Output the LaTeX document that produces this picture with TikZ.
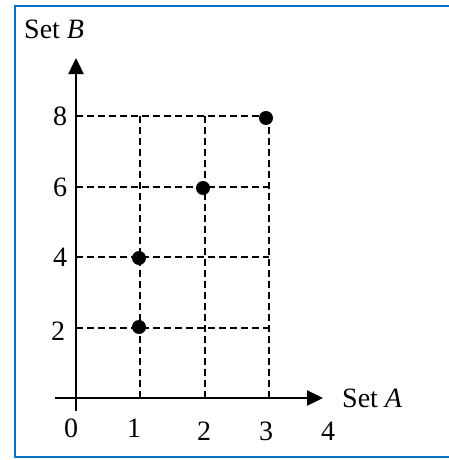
\documentclass[tikz,border=0pt]{standalone}
\usepackage{fontspec}
\setmainfont{Liberation Serif}
\usetikzlibrary{arrows.meta}
\definecolor{frameblue}{RGB}{0,114,198}
\begin{document}
\begin{tikzpicture}[x=1pt,y=-1pt,
  axis/.style={line width=2.4pt,-{Triangle[length=16pt,width=15pt]}},
  gridline/.style={line width=1.3pt,dash pattern=on 7pt off 4pt},
  dot/.style={circle,fill=black,inner sep=0pt,minimum size=14pt},
  lbl/.style={font=\fontsize{28}{32}\selectfont,inner sep=0pt}]
\useasboundingbox (0,0) rectangle (449,460);
\draw[frameblue,line width=2.2pt] (460,6) -- (15,6) -- (15,457) -- (460,457);
% grid coordinates
\coordinate (o) at (76,398);
\coordinate (x1) at (140,398);
\coordinate (x2) at (205,398);
\coordinate (x3) at (269,398);
\coordinate (y2) at (76,328);
\coordinate (y4) at (76,257);
\coordinate (y6) at (76,187);
\coordinate (y8) at (76,116);
\coordinate (x1t) at (140,116);
\coordinate (x2t) at (205,116);
\coordinate (x3t) at (269,116);
\coordinate (r2) at (269,328);
\coordinate (r4) at (269,257);
\coordinate (r6) at (269,187);
% dashed grid
\draw[gridline] (y2) -- (r2);
\draw[gridline] (y4) -- (r4);
\draw[gridline] (y6) -- (r6);
\draw[gridline] (y8) -- (x3t);
\draw[gridline] (x1) -- (x1t);
\draw[gridline] (x2) -- (x2t);
\draw[gridline] (x3) -- (x3t);
% axes
\coordinate (xs) at (55,398);
\coordinate (xe) at (323,398);
\coordinate (ys) at (76,411);
\coordinate (ye) at (76,58);
\draw[axis] (xs) -- (xe);
\draw[axis] (ys) -- (ye);
% dots
\node[dot] (p12) at (139,327) {};
\node[dot] (p14) at (139,258) {};
\node[dot] (p26) at (203,188) {};
\node[dot] (p38) at (266,118) {};
% axis labels
\node[lbl,anchor=base west] (setB) at (24,39) {Set \textit{B}};
\node[lbl,anchor=base west] (setA) at (342,407) {Set \textit{A}};
% x tick labels
\node[lbl,anchor=base] (t0) at (71,437) {0};
\node[lbl,anchor=base] (t1) at (134,437) {1};
\node[lbl,anchor=base] (t2) at (204,440) {2};
\node[lbl,anchor=base] (t3) at (266,440) {3};
\node[lbl,anchor=base] (t4) at (328,440) {4};
% y tick labels
\node[lbl,anchor=base] (l8) at (60,125) {8};
\node[lbl,anchor=base] (l6) at (60,196) {6};
\node[lbl,anchor=base] (l4) at (60,266) {4};
\node[lbl,anchor=base] (l2) at (58,340) {2};
\end{tikzpicture}
\end{document}
